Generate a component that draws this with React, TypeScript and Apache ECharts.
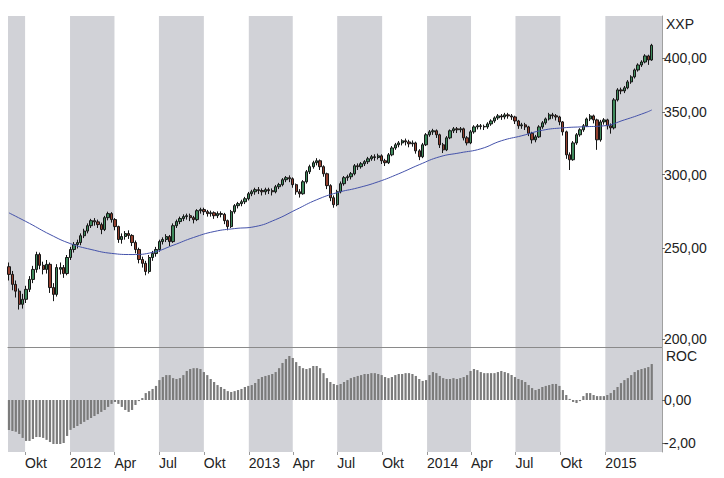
import React, { useEffect, useRef } from 'react';
import * as echarts from 'echarts';

// ---------- data ----------
const weekStart = '2011-08-29';
const axisStart = '2011-08-27';
const axisEnd = '2015-04-27';

// weekly candles: [open, close, low, high]
const candles: number[][] = [
  [239.0, 234.5, 231.0, 241.5], [234.5, 228.8, 225.5, 236.5], [228.8, 225.0, 221.5, 231.0], [225.0, 217.8, 215.0, 226.5],
  [217.8, 220.5, 215.5, 223.5], [220.5, 226.0, 218.5, 228.0], [226.0, 231.6, 224.5, 233.5], [231.6, 237.4, 229.5, 239.5],
  [237.4, 246.3, 235.5, 248.0], [246.3, 239.8, 237.5, 247.5], [239.8, 237.4, 234.5, 242.0], [237.4, 240.4, 235.0, 243.0],
  [240.4, 227.0, 224.0, 241.5], [227.0, 223.2, 219.5, 229.5], [223.2, 238.5, 222.0, 240.5], [237.5, 238.5, 234.5, 241.5],
  [238.5, 235.0, 232.5, 240.0], [235.0, 244.5, 234.0, 246.0], [244.5, 249.4, 243.0, 251.0], [249.4, 252.5, 247.5, 254.0],
  [252.5, 253.7, 250.0, 255.5], [253.7, 258.0, 252.0, 259.5], [258.0, 261.0, 256.5, 262.5], [261.0, 264.5, 259.5, 266.0],
  [264.5, 267.8, 263.0, 269.0], [267.8, 267.0, 264.5, 269.5], [267.0, 265.2, 263.0, 268.5], [265.2, 262.0, 259.0, 266.5],
  [262.0, 269.8, 261.0, 271.0], [269.8, 272.5, 268.0, 273.8], [272.5, 268.5, 266.5, 273.5], [268.5, 263.9, 261.5, 269.5],
  [263.9, 255.6, 253.5, 264.5], [255.6, 257.5, 253.0, 259.5], [257.5, 259.4, 255.5, 261.0], [259.4, 258.2, 256.0, 261.5],
  [258.2, 253.7, 251.5, 259.0], [253.7, 249.4, 247.0, 255.0], [249.4, 243.3, 241.0, 250.5], [243.3, 241.0, 238.5, 245.0],
  [241.0, 236.2, 234.0, 242.5], [236.2, 244.5, 235.0, 246.0], [244.5, 246.9, 242.5, 248.5], [246.9, 249.4, 245.0, 251.0],
  [249.4, 254.3, 248.0, 255.5], [254.3, 255.6, 252.5, 257.0], [255.6, 257.5, 254.0, 259.0], [257.5, 254.3, 251.5, 258.5],
  [254.3, 264.5, 253.5, 266.0], [264.5, 267.2, 263.0, 268.5], [267.2, 269.2, 265.5, 270.5], [269.2, 270.5, 267.5, 272.0],
  [270.5, 271.1, 268.5, 272.5], [271.1, 269.8, 267.5, 272.5], [269.8, 268.5, 266.0, 271.0], [268.5, 274.5, 267.5, 275.5],
  [274.5, 275.2, 272.5, 276.5], [275.2, 273.8, 271.5, 276.5], [273.8, 272.5, 270.5, 275.0], [272.5, 273.1, 270.5, 274.5],
  [273.1, 271.1, 269.0, 274.0], [271.1, 272.5, 269.5, 274.0], [272.5, 272.0, 270.0, 274.0], [272.0, 267.8, 265.5, 273.0],
  [267.8, 263.9, 261.5, 268.5], [263.9, 273.8, 263.0, 275.0], [273.8, 277.9, 272.5, 279.0], [277.9, 279.3, 276.0, 280.5],
  [279.3, 280.6, 277.5, 282.0], [280.6, 282.7, 279.0, 284.0], [282.7, 286.2, 281.5, 287.5], [286.2, 287.6, 284.5, 289.0],
  [287.6, 289.1, 285.5, 290.5], [289.1, 288.5, 286.0, 291.0], [288.5, 287.6, 285.0, 290.0], [287.6, 289.1, 285.5, 290.5],
  [289.1, 288.4, 286.0, 290.5], [288.4, 287.6, 285.0, 290.0], [287.6, 291.2, 286.5, 292.5], [291.2, 292.7, 289.5, 294.0],
  [292.7, 296.3, 291.5, 297.5], [296.3, 297.8, 294.5, 299.0], [297.8, 297.0, 294.5, 299.5], [297.0, 292.7, 290.5, 298.0],
  [292.7, 287.6, 285.5, 293.5], [287.6, 286.2, 283.5, 289.5], [286.2, 294.8, 285.5, 296.0], [294.8, 302.2, 293.5, 303.5],
  [302.2, 306.0, 300.5, 307.5], [306.0, 309.0, 304.5, 310.5], [309.0, 310.5, 307.0, 312.5], [310.5, 306.0, 303.5, 311.5],
  [306.0, 300.7, 298.5, 307.0], [300.7, 292.0, 289.5, 301.5], [292.0, 283.4, 281.0, 293.0], [283.4, 278.6, 276.5, 285.0],
  [278.6, 287.6, 277.5, 289.0], [287.6, 293.4, 286.5, 295.0], [293.4, 297.8, 292.0, 299.0], [297.8, 298.5, 295.5, 300.0],
  [298.5, 300.7, 296.5, 302.0], [300.7, 306.7, 299.5, 308.0], [306.7, 306.0, 303.5, 308.5], [306.0, 308.2, 304.5, 309.5],
  [308.2, 309.8, 306.5, 311.0], [309.8, 312.0, 308.0, 313.5], [312.0, 313.6, 310.5, 315.0], [313.6, 313.0, 310.5, 315.5],
  [313.0, 314.3, 311.5, 316.0], [314.3, 310.5, 308.0, 315.5], [310.5, 309.0, 306.5, 312.0], [309.0, 315.1, 308.0, 316.5],
  [315.1, 320.5, 314.0, 322.0], [320.5, 323.0, 319.0, 324.5], [323.0, 324.5, 321.0, 326.0], [324.5, 326.2, 322.5, 327.5],
  [326.2, 325.3, 322.5, 328.0], [325.3, 323.8, 321.0, 327.0], [323.8, 324.5, 321.5, 326.5], [324.5, 318.2, 316.0, 325.5],
  [318.2, 313.6, 311.0, 319.5], [313.6, 323.0, 312.5, 324.5], [323.0, 331.1, 322.0, 332.5], [331.1, 333.5, 329.5, 335.0],
  [333.5, 334.4, 331.0, 336.0], [334.4, 331.1, 328.5, 335.5], [331.1, 323.0, 320.5, 332.0], [323.0, 319.0, 316.5, 324.5],
  [319.0, 328.6, 318.0, 330.0], [328.6, 334.4, 327.5, 335.5], [334.4, 336.0, 332.5, 337.5], [336.0, 335.2, 332.5, 337.5],
  [335.2, 336.0, 333.0, 337.5], [336.0, 328.6, 326.5, 337.0], [328.6, 324.5, 322.5, 330.0], [324.5, 333.5, 323.5, 335.0],
  [333.5, 337.6, 332.0, 339.0], [337.6, 338.5, 335.5, 340.0], [338.5, 338.0, 335.5, 340.0], [338.0, 337.6, 335.0, 339.5],
  [337.6, 340.1, 336.0, 341.5], [340.1, 342.6, 338.5, 344.0], [342.6, 345.2, 341.0, 346.5], [345.2, 346.9, 343.5, 348.5],
  [346.9, 346.0, 343.5, 348.5], [346.0, 347.8, 344.0, 349.5], [347.8, 346.9, 344.5, 349.5], [346.9, 346.0, 343.5, 348.5],
  [346.0, 342.6, 340.0, 347.0], [342.6, 338.5, 336.0, 343.5], [338.5, 339.3, 336.0, 341.0], [339.3, 337.6, 335.0, 341.0],
  [337.6, 332.3, 330.0, 338.5], [332.3, 327.0, 324.0, 333.5], [327.0, 329.4, 325.0, 331.0], [329.4, 337.6, 328.5, 339.0],
  [337.6, 341.0, 336.0, 342.5], [341.0, 344.3, 339.5, 345.5], [344.3, 347.8, 343.0, 349.5], [347.8, 347.0, 344.5, 349.5],
  [347.0, 346.0, 343.0, 348.5], [346.0, 341.8, 339.0, 347.0], [341.8, 333.5, 330.5, 342.5], [333.5, 315.1, 312.0, 334.5],
  [315.1, 311.3, 303.5, 317.0], [311.3, 324.5, 310.5, 326.0], [324.5, 331.1, 323.0, 332.5], [331.1, 335.2, 329.5, 336.5],
  [335.2, 338.5, 333.5, 340.0], [338.5, 344.3, 337.5, 345.5], [344.3, 346.9, 342.5, 348.5], [346.9, 343.5, 340.5, 348.0],
  [343.5, 327.0, 319.0, 344.5], [327.0, 341.8, 325.5, 343.5], [341.8, 343.5, 339.5, 345.0], [343.5, 338.5, 335.5, 344.5],
  [338.5, 336.8, 332.0, 340.5], [336.8, 360.9, 335.5, 362.5], [360.9, 369.9, 359.5, 371.5], [369.9, 369.0, 366.0, 372.0],
  [369.0, 371.8, 367.0, 373.5], [371.8, 377.3, 370.5, 379.0], [377.3, 382.0, 375.5, 383.5], [382.0, 388.6, 380.5, 390.0],
  [388.6, 393.4, 387.0, 395.0], [393.4, 396.3, 391.5, 398.0], [396.3, 402.3, 395.0, 404.0], [402.3, 398.3, 393.5, 403.5],
  [398.3, 413.0, 397.5, 414.5],
];

// moving average: [week index, value]
const maPoints: number[][] = [
  [0, 273], [6, 266], [12, 258.8], [18, 253], [24, 249.4], [30, 247], [36, 246.3], [42, 247.6], [48, 252],
  [54, 256.9], [60, 260.7], [66, 262.6], [72, 263.9], [78, 268.5], [84, 275.2], [90, 282], [96, 287],
  [102, 290.4], [108, 294.8], [114, 300.7], [120, 307.5], [126, 313.6], [132, 316.7], [138, 319.8],
  [144, 326.2], [150, 330.3], [156, 334.8], [162, 336.8], [168, 337.7], [174, 338.5], [180, 343.5],
  [186, 349.5], [188, 352],
];

// weekly ROC
const rocValues: number[] = [
  -1.38, -1.43, -1.47, -1.57, -1.75, -1.89, -1.89, -1.80, -1.71, -1.71,
  -1.75, -1.84, -1.94, -2.03, -2.03, -2.03, -1.98, -1.66, -1.38, -1.29,
  -1.20, -1.11, -1.01, -0.92, -0.83, -0.74, -0.65, -0.55, -0.46, -0.32,
  -0.18, -0.09, -0.18, -0.32, -0.46, -0.55, -0.46, -0.23, -0.05, 0.09,
  0.32, 0.41, 0.51, 0.65, 0.92, 1.06, 1.15, 1.15, 1.01, 0.97,
  1.01, 1.15, 1.34, 1.43, 1.47, 1.47, 1.43, 1.29, 1.15, 0.97,
  0.83, 0.69, 0.60, 0.51, 0.41, 0.37, 0.41, 0.46, 0.51, 0.60,
  0.65, 0.69, 0.78, 0.97, 1.06, 1.11, 1.15, 1.20, 1.29, 1.47,
  1.71, 1.89, 2.03, 1.94, 1.75, 1.57, 1.47, 1.43, 1.47, 1.57,
  1.57, 1.47, 1.24, 1.01, 0.83, 0.74, 0.69, 0.74, 0.83, 0.92,
  1.01, 1.06, 1.11, 1.15, 1.20, 1.20, 1.24, 1.24, 1.20, 1.15,
  1.06, 1.01, 1.06, 1.15, 1.20, 1.20, 1.24, 1.24, 1.20, 1.11,
  0.97, 0.88, 0.92, 1.15, 1.29, 1.24, 1.11, 1.01, 0.97, 0.97,
  1.01, 0.97, 1.01, 1.06, 1.15, 1.34, 1.43, 1.38, 1.29, 1.24,
  1.24, 1.24, 1.24, 1.29, 1.34, 1.29, 1.24, 1.15, 1.06, 0.97,
  0.92, 0.83, 0.69, 0.55, 0.46, 0.51, 0.60, 0.65, 0.69, 0.74,
  0.74, 0.65, 0.46, 0.23, 0.05, -0.09, -0.14, -0.05, 0.18, 0.32,
  0.32, 0.23, 0.18, 0.18, 0.18, 0.23, 0.32, 0.46, 0.60, 0.78,
  0.92, 1.01, 1.15, 1.29, 1.38, 1.43, 1.47, 1.52, 1.66,
];

const shadedQuarters: string[][] = [
  ['2011-08-27', '2011-10-01'], ['2012-01-01', '2012-04-01'], ['2012-07-01', '2012-10-01'],
  ['2013-01-01', '2013-04-01'], ['2013-07-01', '2013-10-01'], ['2014-01-01', '2014-04-01'],
  ['2014-07-01', '2014-10-01'], ['2015-01-01', '2015-04-27'],
];

const quarterTicks = [
  '2011-10-01', '2012-01-01', '2012-04-01', '2012-07-01', '2012-10-01', '2013-01-01', '2013-04-01',
  '2013-07-01', '2013-10-01', '2014-01-01', '2014-04-01', '2014-07-01', '2014-10-01', '2015-01-01',
];
const quarterLabels = ['Okt', '2012', 'Apr', 'Jul', 'Okt', '2013', 'Apr', 'Jul', 'Okt', '2014', 'Apr', 'Jul', 'Okt', '2015'];
const priceTicks = [200, 250, 300, 350, 400];
const rocTicks = [-2, 0];

// ---------- helpers ----------
const DAY = 86400000;
const toDay = (s: string) => {
  const [y, m, d] = s.split('-').map(Number);
  return Math.round(Date.UTC(y, m - 1, d) / DAY);
};
const fmt = (v: number) => v.toFixed(2).replace('.', ',');

export default function App() {
  const ref = useRef<HTMLDivElement>(null);

  useEffect(() => {
    if (!ref.current) return;
    const chart = echarts.init(ref.current, undefined, { renderer: 'svg' });

    // x positions are day numbers on a value axis
    const w0 = toDay(weekStart);
    const weekDays = candles.map((_, i) => w0 + 7 * i);
    const dMin = toDay(axisStart);
    const dMax = toDay(axisEnd);
    const tickDays = quarterTicks.map((s) => toDay(s));
    const labelMap: Record<number, string> = {};
    tickDays.forEach((t, i) => (labelMap[t] = quarterLabels[i]));

    const bands = shadedQuarters.map(([a, b]) => [{ xAxis: toDay(a) }, { xAxis: toDay(b) }]);
    const font = 'Liberation Sans, Arial, sans-serif';
    const bandColor = '#d1d2d7';

    chart.setOption({
      animation: false,
      backgroundColor: '#ffffff',
      textStyle: { fontFamily: font },
      grid: [
        { left: 8, top: 16, width: 654, height: 331 },
        { left: 8, top: 348, width: 654, height: 104 },
      ],
      xAxis: [
        {
          type: 'value', gridIndex: 0, min: dMin, max: dMax, scale: true,
          axisLine: { show: true, onZero: false, lineStyle: { color: '#8a8a8a', width: 1.2 } },
          axisTick: { show: false }, axisLabel: { show: false }, splitLine: { show: false },
        },
        {
          type: 'value', gridIndex: 1, min: dMin, max: dMax, scale: true,
          axisLine: { show: false, onZero: false },
          axisTick: { show: true, customValues: tickDays, length: 3, lineStyle: { color: '#9a9a9a' } },
          axisLabel: {
            customValues: tickDays,
            formatter: (v: number) => labelMap[Math.round(v)] ?? '',
            align: 'left', margin: 4, fontSize: 14, color: '#222', fontFamily: font,
          },
          splitLine: { show: false },
        },
      ],
      yAxis: [
        {
          type: 'log', logBase: 10, gridIndex: 0, position: 'right', min: 196, max: 444,
          axisLine: { show: true, lineStyle: { color: '#a0a0a0' } },
          axisTick: { show: true, customValues: priceTicks, length: 3, lineStyle: { color: '#666' } },
          axisLabel: { customValues: priceTicks, formatter: (v: number) => fmt(v), margin: 2, fontSize: 14, color: '#222', fontFamily: font },
          splitLine: { show: false },
        },
        {
          type: 'value', gridIndex: 1, position: 'right', min: -2.4, max: 2.4,
          axisLine: { show: true, lineStyle: { color: '#a0a0a0' } },
          axisTick: { show: true, customValues: rocTicks, length: 3, lineStyle: { color: '#666' } },
          axisLabel: { customValues: rocTicks, formatter: (v: number) => fmt(v), margin: 2, fontSize: 14, color: '#222', fontFamily: font },
          splitLine: { show: false },
        },
      ],
      graphic: [
        { type: 'text', left: 666, top: 17, style: { text: 'XXP', fontSize: 14, fill: '#222', fontFamily: font } },
        { type: 'text', left: 666, top: 349, style: { text: 'ROC', fontSize: 14, fill: '#222', fontFamily: font } },
      ],
      series: [
        {
          type: 'candlestick', xAxisIndex: 0, yAxisIndex: 0,
          data: candles.map((c, i) => [weekDays[i], c[0], c[1], c[2], c[3]]),
          encode: { x: 0, y: [1, 2, 3, 4] },
          barWidth: 2.8,
          itemStyle: { color: '#3f8a5c', color0: '#94402f', borderColor: '#151515', borderColor0: '#151515', borderWidth: 1 },
          markArea: { silent: true, itemStyle: { color: bandColor }, data: bands },
          z: 3,
        },
        {
          type: 'line', xAxisIndex: 0, yAxisIndex: 0,
          data: maPoints.map(([i, v]) => [weekDays[i], v]),
          smooth: true, showSymbol: false, symbol: 'none',
          lineStyle: { color: '#4452aa', width: 1 },
          z: 4,
        },
        {
          type: 'bar', xAxisIndex: 1, yAxisIndex: 1,
          data: rocValues.map((v, i) => [weekDays[i], v]),
          barWidth: 2.2,
          itemStyle: { color: '#7b7b7b' },
          markArea: { silent: true, itemStyle: { color: bandColor }, data: bands },
          z: 3,
        },
      ],
    });

    return () => chart.dispose();
  }, []);

  return <div ref={ref} style={{ position: 'fixed', left: 0, top: 0, width: 724, height: 478 }} />;
}
